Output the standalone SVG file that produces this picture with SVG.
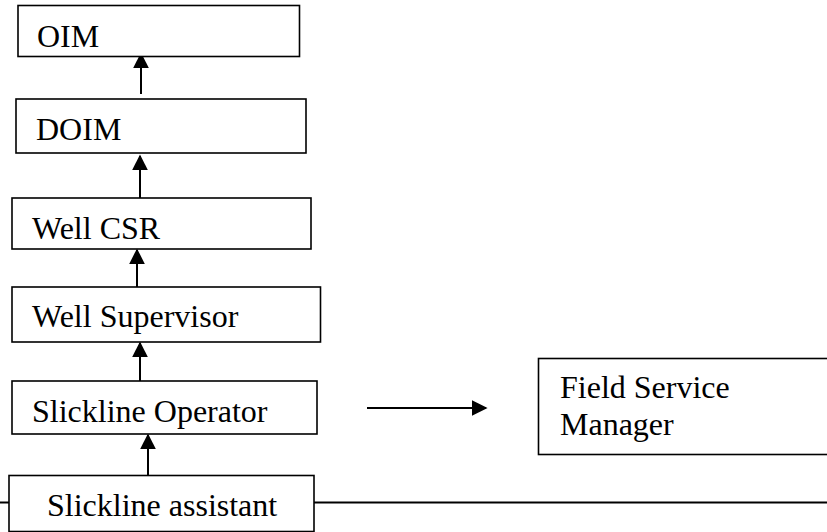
<svg xmlns="http://www.w3.org/2000/svg" width="827" height="532" viewBox="0 0 827 532">
<defs>
<style>
.box{fill:#fff;stroke:#000;stroke-width:1.6}
.lbl{font-family:'Liberation Serif','Times New Roman',serif;font-size:32px;fill:#000}
.con{stroke:#000;stroke-width:2;fill:none}
</style>
<marker id="ah" viewBox="0 0 10 10" refX="9" refY="5" markerWidth="16" markerHeight="16" markerUnits="userSpaceOnUse" orient="auto">
<path d="M0,0 L10,5 L0,10 Z" fill="#000"/>
</marker>
</defs>
<rect width="827" height="532" fill="#fff"/>
<g id="connectors">
<line class="con" x1="141" y1="94" x2="141" y2="54" marker-end="url(#ah)"/>
<line class="con" x1="140" y1="198" x2="140" y2="156" marker-end="url(#ah)"/>
<line class="con" x1="137" y1="287" x2="137" y2="250" marker-end="url(#ah)"/>
<line class="con" x1="140" y1="381" x2="140" y2="343" marker-end="url(#ah)"/>
<line class="con" x1="148" y1="476" x2="148" y2="435" marker-end="url(#ah)"/>
<line class="con" x1="367" y1="408" x2="486" y2="408" marker-end="url(#ah)"/>
<line class="con" x1="0" y1="502.5" x2="9" y2="502.5"/>
<line class="con" x1="314" y1="502.5" x2="827" y2="502.5"/>
</g>
<g id="oim"><rect class="box" x="18" y="5.5" width="281.5" height="51"/><text class="lbl" x="37" y="47">OIM</text></g>
<g id="doim"><rect class="box" x="16" y="99" width="290" height="54"/><text class="lbl" x="36" y="140">DOIM</text></g>
<g id="well-csr"><rect class="box" x="12" y="198" width="299" height="51"/><text class="lbl" x="32" y="239">Well CSR</text></g>
<g id="well-supervisor"><rect class="box" x="12" y="287" width="308.5" height="55"/><text class="lbl" x="32" y="327">Well Supervisor</text></g>
<g id="slickline-operator"><rect class="box" x="12" y="381" width="305" height="53"/><text class="lbl" x="32" y="422">Slickline Operator</text></g>
<g id="slickline-assistant"><rect class="box" x="9" y="475.5" width="305" height="56"/><text class="lbl" x="47" y="516">Slickline assistant</text></g>
<g id="field-service-manager"><rect class="box" x="538.5" y="358.5" width="300" height="96"/><text class="lbl" x="560" y="398">Field Service</text><text class="lbl" x="560" y="435">Manager</text></g>
</svg>
